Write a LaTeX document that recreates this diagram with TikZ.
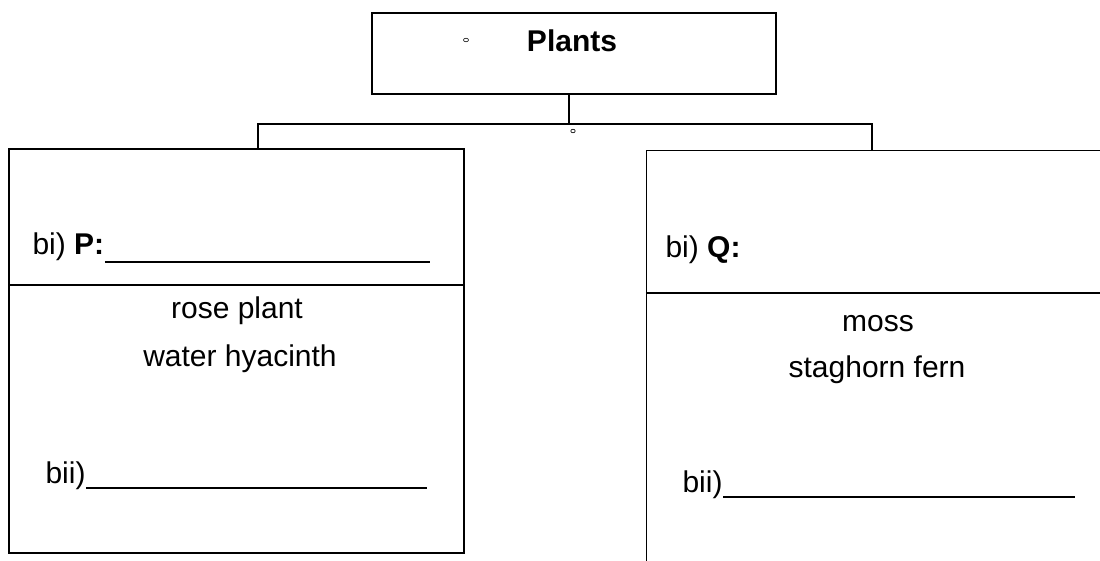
\documentclass[tikz,border=0pt]{standalone}
\usepackage{fontspec}
\setmainfont{Liberation Sans}
\usetikzlibrary{positioning, calc}

\begin{document}
\begin{tikzpicture}[
    x=1pt, y=-1pt,
    font=\fontsize{30}{36}\selectfont,
    line width=1.1pt,
    frame/.style={
        draw=black,
        rectangle,
        inner sep=0pt
    },
    entry/.style={
        inner sep=0pt,
        anchor=base west
    },
    example/.style={
        inner sep=0pt,
        anchor=base
    },
    blank/.style={line width=2pt},
    branch/.style={line width=1.1pt}
]
\useasboundingbox (0,0) rectangle (1100,561);
% ============================================================
% TOP BOX
% ============================================================
\node[frame, minimum width=404pt, minimum height=81pt] (plants) at (574,53.5) {};
\node[example] (plantstext) at (572,52) {\textbf{Plants}};
\draw[line width=0.6pt] (466,40) ellipse (2.5 and 1.8);
% ============================================================
% CLASS BOXES -- P on the left, Q on the right
% ============================================================
\node[frame, minimum width=455pt, minimum height=404pt] (pbox) at (236.5,351) {};
\node[frame, minimum width=463pt, minimum height=425pt] (qbox) at (1110,150) [anchor=north east] {};
% dividers
\coordinate (pdiv) at (0,285);
\coordinate (qdiv) at (0,293);
\draw (pbox.west |- pdiv) -- (pbox.east |- pdiv);
\draw (qbox.west |- qdiv) -- (qbox.east |- qdiv);
% ============================================================
% BRANCH LINES
% ============================================================
\coordinate (fork) at (569,124);
\coordinate (pdrop) at (258,124);
\coordinate (qdrop) at (872,124);
\draw[branch] (fork |- plants.south) -- (fork);
\draw[branch] (pdrop |- pbox.north) -- (pdrop) -- (qdrop) -- (qdrop |- qbox.north);
\draw[line width=0.6pt] (573,131) ellipse (2.2 and 1.8);
% ============================================================
% LEFT BOX TEXT
% ============================================================
\node[entry] (pbi) at (32,255) {bi) \textbf{P:}};
\draw[blank] (pbi.base east |- 0,262) -- (430,262);
\node[example] (rose) at (237,319) {rose plant};
\node[example] (hyacinth) at (240,366) {water hyacinth};
\node[entry] (pbii) at (45,483) {bii)};
\draw[blank] (pbii.base east |- 0,488) -- (427,488);
% ============================================================
% RIGHT BOX TEXT
% ============================================================
\node[entry] (qbi) at (665,258) {bi) \textbf{Q:}};
\node[example] (moss) at (878,331) {moss};
\node[example] (fern) at (877,377) {staghorn fern};
\node[entry] (qbii) at (682,492) {bii)};
\draw[blank] (qbii.base east |- 0,497) -- (1075,497);
\end{tikzpicture}
\end{document}
